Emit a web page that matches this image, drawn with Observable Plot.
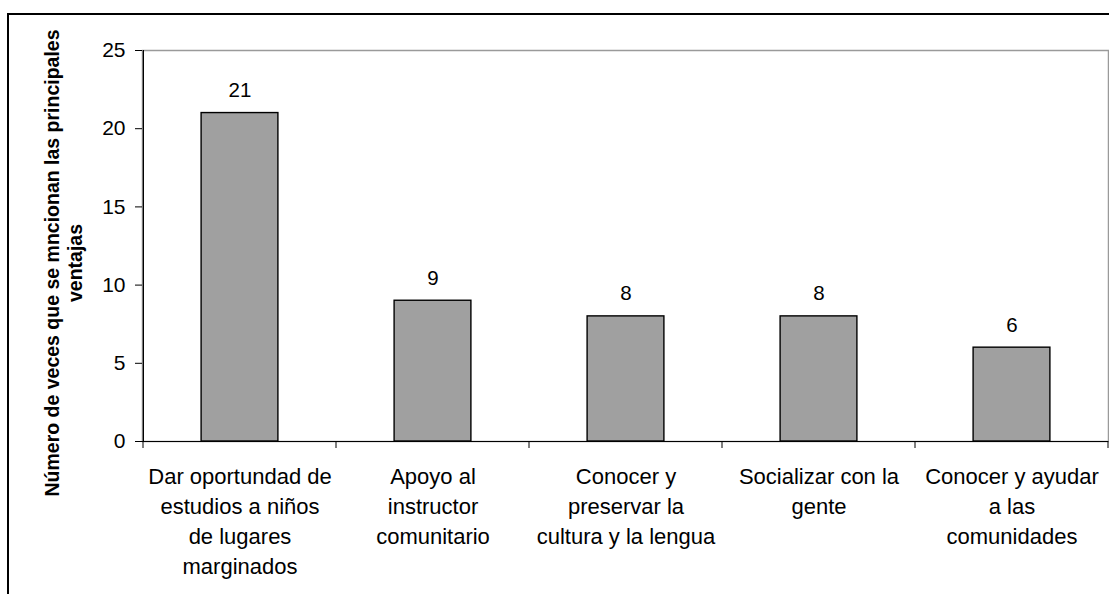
<!DOCTYPE html>
<html>
<head>
<meta charset="utf-8">
<script src="https://cdn.jsdelivr.net/npm/d3@7"></script>
<script src="https://cdn.jsdelivr.net/npm/@observablehq/plot@0.6"></script>
<style>
  html, body { margin: 0; padding: 0; background: #fff; }
  #wrap { position: relative; width: 1109px; height: 594px; overflow: hidden; background: #fff; }
  #outer { position: absolute; left: 7px; top: 12.5px; width: 2000px; height: 2000px; border: 2.5px solid #000; box-sizing: border-box; pointer-events: none; }
  #chart { position: absolute; left: 0; top: 0; }
  svg { font-family: Arial, "Liberation Sans", sans-serif; }
</style>
</head>
<body>
<div id="wrap">
  <div id="chart"></div>
  <div id="outer"></div>
</div>
<script>
const categories = [
  "Dar oportundad de estudios a niños de lugares marginados",
  "Apoyo al instructor comunitario",
  "Conocer y preservar la cultura y la lengua",
  "Socializar con la gente",
  "Conocer y ayudar a las comunidades"
];
const values = [21, 9, 8, 8, 6];
const tickLabels = [
  "Dar oportundad de\nestudios a niños\nde lugares\nmarginados",
  "Apoyo al\ninstructor\ncomunitario",
  "Conocer y\npreservar la\ncultura y la lengua",
  "Socializar con la\ngente",
  "Conocer y ayudar\na las\ncomunidades"
];
const yTicks = [0, 5, 10, 15, 20, 25];
const yTitle = "Número de veces que se mncionan las principales\nventajas";

const data = categories.map((c, i) => ({category: c, value: values[i]}));
const labelOf = new Map(categories.map((c, i) => [c, tickLabels[i]]));

const W = 1109, H = 594, ML = 142, MR = 1, MT = 50, MB = 153;
const bw = (W - ML - MR) / categories.length;
const barW = 77;
const inset = (bw - barW) / 2;

const chart = Plot.plot({
  width: W,
  height: H,
  marginLeft: ML,
  marginRight: MR,
  marginTop: MT,
  marginBottom: MB,
  style: {fontFamily: 'Arial, "Liberation Sans", sans-serif', background: "#fff", overflow: "visible"},
  x: {domain: categories, padding: 0, label: null},
  y: {domain: [0, 25], label: null},
  marks: [
    Plot.frame({stroke: "#9a9a9a", strokeWidth: 1.5}),
    Plot.barY(data, {x: "category", y: "value", fill: "#a0a0a0", stroke: "#000", strokeWidth: 1.4, insetLeft: inset, insetRight: inset}),
    Plot.ruleY([0], {stroke: "#000", strokeWidth: 1.2}),
    Plot.ruleX([categories[0]], {x: d => d, y1: 0, y2: 25, dx: -bw / 2, stroke: "#000", strokeWidth: 1.2}),
    Plot.axisY({ticks: yTicks, tickSize: 7, tickPadding: 10, fontSize: 21, fill: "#000", stroke: "#000", label: null, tickFormat: d => String(d)}),
    Plot.axisX({tickSize: 0, tickPadding: 21, fontSize: 22, fill: "#000", lineAnchor: "top", lineHeight: 1.36, label: null, tickFormat: d => labelOf.get(d)}),
    Plot.text(data, {x: "category", y: "value", text: d => String(d.value), dy: -16, lineAnchor: "bottom", fontSize: 20.5, fill: "#000"}),
    Plot.text([yTitle], {frameAnchor: "left", text: d => d, rotate: -90, dx: -79, dy: 17, fontSize: 19.5, fontWeight: "bold", fill: "#000", lineHeight: 1.18, textAnchor: "middle", lineAnchor: "middle"})
  ]
});

document.getElementById("chart").appendChild(chart);
// category boundary ticks drawn via the x scale (band edges)
const xs = chart.scale("x");
const ys = chart.scale("y");
const svg = d3.select(chart.tagName.toLowerCase() === "svg" ? chart : chart.querySelector("svg"));
const y0 = ys.apply(0);
const edges = categories.map(c => xs.apply(c)).concat([xs.apply(categories[categories.length - 1]) + xs.bandwidth]);
svg.append("g").selectAll("line").data(edges).join("line")
  .attr("x1", d => d).attr("x2", d => d)
  .attr("y1", y0).attr("y2", y0 + 7)
  .attr("stroke", "#000").attr("stroke-width", 1);
</script>
</body>
</html>
